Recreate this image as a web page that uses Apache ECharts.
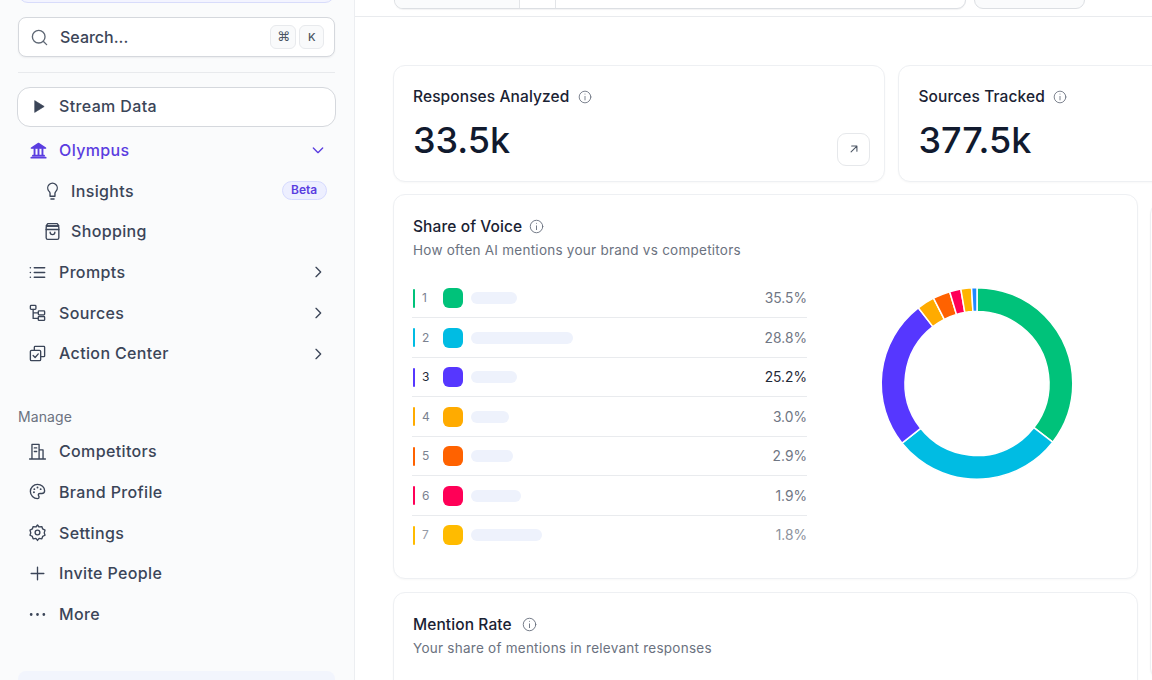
<!DOCTYPE html>
<html>
<head>
<meta charset="utf-8">
<title>Share of Voice</title>
<script src="https://cdn.jsdelivr.net/npm/echarts@6/dist/echarts.min.js"></script>
<style>
html, body { margin: 0; padding: 0; background: #fff; overflow: hidden; }
body { width: 1152px; height: 680px; position: relative; font-family: Inter, sans-serif; color: #374151; }
.abs, .t, svg.i { position: absolute; }
.box { position: absolute; box-sizing: border-box; background: #fff; }
.t { white-space: nowrap; line-height: 20px; }
.nav { font-size: 16px; font-weight: 450; color: #3b4558; letter-spacing: .36px; }
.card { border: 1px solid #eef0f3; border-radius: 12px; box-shadow: 0 1px 2px rgba(16,24,40,.03); }
.title { font-size: 15.5px; font-weight: 500; color: #1a2233; letter-spacing: .1px; }
.sub { font-size: 13.5px; color: #6b7280; letter-spacing: .25px; }
.big { font-size: 36px; font-weight: 500; color: #111a2e; line-height: 40px; margin-top: -10px; }
svg.i { fill: none; stroke: currentColor; stroke-width: 1.7; stroke-linecap: round; stroke-linejoin: round; }
</style>
</head>
<body>
<div id="page"></div>
<div id="donut" class="abs" style="left:857px;top:264px;width:240px;height:240px"></div>
<script>
var shareRanks = ['1', '2', '3', '4', '5', '6', '7'];
var shareLabels = ['35.5%', '28.8%', '25.2%', '3.0%', '2.9%', '1.9%', '1.8%'];
var shareValues = [35.5, 28.8, 25.2, 3.0, 2.9, 1.9, 1.8, 0.9];
var sliceNames = ['1', '2', '3', '4', '5', '6', '7', '8'];
var sliceColors = ['#00c27a', '#00bce3', '#5637ff', '#ffab00', '#ff6200', '#ff0057', '#ffb300', '#1e88ff'];
var swatchColors = ['#00c27a', '#00bce3', '#5637ff', '#ffab00', '#ff6200', '#ff0057', '#ffbb00'];
var navTop = ['Prompts', 'Sources', 'Action Center'];
var navManage = ['Competitors', 'Brand Profile', 'Settings', 'Invite People', 'More'];

var page = document.getElementById('page');
var INK = '#3b4558', PURPLE = '#5a3de0';

function box(x, y, w, h, css) {
    var d = document.createElement('div');
    d.className = 'box';
    d.style.cssText = 'left:' + x + 'px;top:' + y + 'px;width:' + w + 'px;height:' + h + 'px;' + (css || '');
    page.appendChild(d);
    return d;
}
// y is the vertical centre of the text line
function text(str, x, y, cls, css) {
    var d = document.createElement('div');
    d.className = 't ' + (cls || '');
    d.textContent = str;
    d.style.cssText = 'left:' + x + 'px;top:' + (y - 10) + 'px;' + (css || '');
    page.appendChild(d);
    return d;
}
function icon(body, cx, cy, size, color, sw) {
    var ns = 'http://www.w3.org/2000/svg';
    var s = document.createElementNS(ns, 'svg');
    s.setAttribute('class', 'i');
    s.setAttribute('viewBox', '0 0 24 24');
    s.setAttribute('width', size);
    s.setAttribute('height', size);
    s.style.left = (cx - size / 2) + 'px';
    s.style.top = (cy - size / 2) + 'px';
    s.style.color = color || INK;
    if (sw) s.style.strokeWidth = sw;
    s.innerHTML = body;
    page.appendChild(s);
}

var ICONS = {
    search: '<circle cx="11" cy="11" r="8"/><path d="M21 21l-4.3-4.3"/>',
    play: '<path d="M7 4l13 8-13 8z" fill="currentColor"/>',
    bank: '<path d="M3 9l9-6 9 6z" fill="currentColor"/><path d="M3 21h18M5 18.5h14M7 10v8M12 10v8M17 10v8" stroke-width="2.4"/>',
    bulb: '<path d="M9 18h6M10 21.5h4M15.1 14c.2-1 .7-1.700 1.400-2.500A6 6 0 1 0 7.500 11.500c.7.7 1.200 1.500 1.400 2.500v4h6.200z"/>',
    bag: '<rect x="4" y="5" width="16" height="17" rx="2"/><path d="M4 9.500h16M6 2h12l2 3H4zM9 13a3 3 0 0 0 6 0"/>',
    list: '<path d="M8 6h13M8 12h13M8 18h13M3 6h.01M3 12h.01M3 18h.01" stroke-width="2"/>',
    tree: '<rect x="3" y="3" width="7" height="5" rx="1"/><rect x="13" y="10" width="8" height="5" rx="1"/><rect x="13" y="17" width="8" height="5" rx="1"/><path d="M6.500 8v11.500H13M6.500 12.500H13"/>',
    action: '<rect x="3" y="8" width="13" height="13" rx="1.500"/><path d="M8 8V4a1 1 0 0 1 1-1h11a1 1 0 0 1 1 1v11a1 1 0 0 1-1 1h-4M6.500 14.500l2.500 2.500 4-4.500"/>',
    building: '<path d="M2 21.500h20M5 21.500V3h9v18.500M14 10h5v11.500M8 7.500h3M8 12h3"/>',
    palette: '<path d="M12 3a9 9 0 1 0 0 18c1.500 0 2-1 2-2 0-1.500-1-1.500-1-3 0-1 .8-1.500 2-1.500h2.500c2 0 3.500-1.300 3.500-3.500C21 6.500 17 3 12 3z"/><path d="M8 9h.01M7.500 13h.01M12 7h.01M16 9h.01" stroke-width="2.400"/>',
    gear: '<path d="M12 2.500l2 2.500 3.500-.5 1 3 3 1.500-1 3.500 1 3-3 1.500-1 3-3.500-.5-2 2.500-2-2.500-3.500.5-1-3-3-1.500 1-3-1-3.500 3-1.500 1-3 3.500.5z"/><circle cx="12" cy="12" r="3"/>',
    plus: '<path d="M12 4v16M4 12h16"/>',
    dots: '<path d="M4 12h.01M12 12h.01M20 12h.01" stroke-width="3.500"/>',
    right: '<path d="M9 5l7 7-7 7"/>',
    down: '<path d="M5 9l7 7 7-7"/>',
    info: '<circle cx="12" cy="12" r="10"/><path d="M12 11v6M12 7h.01"/>',
    arrow: '<path d="M7 17L17 7M8 7h9v9"/>'
};

// sidebar
box(0, 0, 355, 680, 'background:#fafbfc;border-right:1px solid #eceef1');
box(18, -20, 317, 23, 'background:#f3f4ff;border:1px solid #d8dcfb;border-radius:10px');
box(18, 17, 317, 40, 'border:1px solid #d5d8dd;border-radius:8px;box-shadow:0 1px 2px rgba(16,24,40,.06)');
icon(ICONS.search, 39, 37, 19, '#5f6875');
text('Search...', 60, 37, 'nav', 'letter-spacing:0');
box(270, 25, 26, 24, 'background:#f9fafb;border:1px solid #e8eaed;border-radius:6px');
box(299, 25, 25, 24, 'background:#f9fafb;border:1px solid #e8eaed;border-radius:6px');
text('⌘', 277, 37, '', 'font-size:13px;color:#4b5563;font-family:"DejaVu Sans"');
text('K', 308, 37, '', 'font-size:11px;font-weight:500;color:#4b5563');
box(18, 72, 317, 1, 'background:#e8eaed');
box(17, 87, 319, 40, 'border:1px solid #d5d8dd;border-radius:13px');
icon(ICONS.play, 38, 106.500, 17, INK, 1);
text('Stream Data', 59, 106, 'nav');
icon(ICONS.bank, 38, 150, 19, PURPLE);
text('Olympus', 59, 150, 'nav', 'color:' + PURPLE);
icon(ICONS.down, 318, 150, 16, PURPLE, 2);
icon(ICONS.bulb, 52, 191, 19);
text('Insights', 71, 190.500, 'nav');
box(282, 181, 45, 19, 'background:#edefff;border:1px solid #d6daff;border-radius:10px');
text('Beta', 291, 190, '', 'font-size:12px;font-weight:600;color:' + PURPLE);
icon(ICONS.bag, 52, 231, 19);
text('Shopping', 71, 231, 'nav');

var topIcons = [ICONS.list, ICONS.tree, ICONS.action];
navTop.forEach(function(name, i) {
    var y = 272 + i * 40.800;
    icon(topIcons[i], 37.500, y, 19);
    text(name, 59, y - 0.300, 'nav');
    icon(ICONS.right, 318, y, 16, INK, 2);
});
text('Manage', 18, 417, '', 'font-size:14px;color:#6b7280;letter-spacing:.1px');
var manageIcons = [ICONS.building, ICONS.palette, ICONS.gear, ICONS.plus, ICONS.dots];
navManage.forEach(function(name, i) {
    var y = 451 + i * 40.750;
    icon(manageIcons[i], 37.500, y, 19);
    text(name, 59, y, 'nav');
});
box(18, 671, 317, 30, 'background:#f2f5fd;border-radius:8px');

// top bar
box(355, 16, 797, 1, 'background:#e9ebee');
box(394, -20, 572, 28.500, 'border:1px solid #dcdfe3;border-radius:9px;box-shadow:0 1px 1px rgba(16,24,40,.05)');
box(395, -20, 124, 27.500, 'background:#fafbfc;border-radius:0 0 0 8px');
box(519, -20, 1, 28, 'background:#e3e5e8');
box(555, -20, 1, 28, 'background:#e3e5e8');
box(974, -20, 111, 28.500, 'background:#fafbfc;border:1px solid #dcdfe3;border-radius:9px');

// stat cards
box(393, 65, 492, 116.500, '').className = 'box card';
box(898, 65, 300, 116.500, '').className = 'box card';
text('Responses Analyzed', 413, 97, 'title');
icon(ICONS.info, 584.500, 96.500, 14, '#6b7280', 1.500);
text('33.5k', 413, 140, 'big');
box(837, 133, 33, 33, 'border:1px solid #e6e8eb;border-radius:9px');
icon(ICONS.arrow, 853.500, 149, 14, '#4b5563', 1.800);
text('Sources Tracked', 918.500, 97, 'title');
icon(ICONS.info, 1059.500, 96.500, 14, '#6b7280', 1.500);
text('377.5k', 918.500, 140, 'big');

// share of voice card
box(393, 194, 745, 384.500, '').className = 'box card';
box(1150, 202, 30, 478, '').className = 'box card';
text('Share of Voice', 413, 226.500, 'title');
icon(ICONS.info, 536.500, 226, 15, '#6b7280', 1.500);
text('How often AI mentions your brand vs competitors', 413, 250, 'sub');

// names are masked in the source, only placeholder pills are visible
var pillWidths = [46, 102, 46, 38, 42, 50, 71];
shareRanks.forEach(function(rank, i) {
    var y = 298 + i * 39.500;
    var faded = i === 6 ? 'opacity:.8;' : '';
    var active = i === 2;
    box(412.500, y - 9.500, 2.500, 19, 'background:' + swatchColors[i] + ';border-radius:1px');
    text(rank, 422, y, '', 'font-size:12px;color:' + (active ? '#1f2937' : '#7b8290') + ';' + faded);
    box(443, y - 10, 20, 20, 'background:' + swatchColors[i] + ';border-radius:6px');
    box(471, y - 6, pillWidths[i], 12, 'background:#eef2fc;border-radius:6px');
    var v = text(shareLabels[i], 0, y, '', 'font-size:13.800px;color:' + (active ? '#1f2937' : '#6f7683') + ';' + faded);
    v.style.left = 'auto';
    v.style.right = (1152 - 807) + 'px';
    if (i < shareRanks.length - 1) box(412, Math.round(y + 19.200), 395, 1, 'background:#e9ebee');
});

// mention rate card
box(393, 592, 745, 120, '').className = 'box card';
text('Mention Rate', 413, 624.500, 'title');
icon(ICONS.info, 529, 624, 15, '#6b7280', 1.500);
text('Your share of mentions in relevant responses', 413, 648, 'sub');

var donut = echarts.init(document.getElementById('donut'));
donut.setOption({
    animation: false,
    series: [{
        type: 'pie',
        center: [120, 119.500],
        radius: [72, 95.800],
        startAngle: 90,
        silent: true,
        label: { show: false },
        labelLine: { show: false },
        itemStyle: { borderColor: '#fff', borderWidth: 1.500 },
        data: shareValues.map(function(v, i) {
            return { name: sliceNames[i], value: v, itemStyle: { color: sliceColors[i] } };
        })
    }]
});
</script>
</body>
</html>
